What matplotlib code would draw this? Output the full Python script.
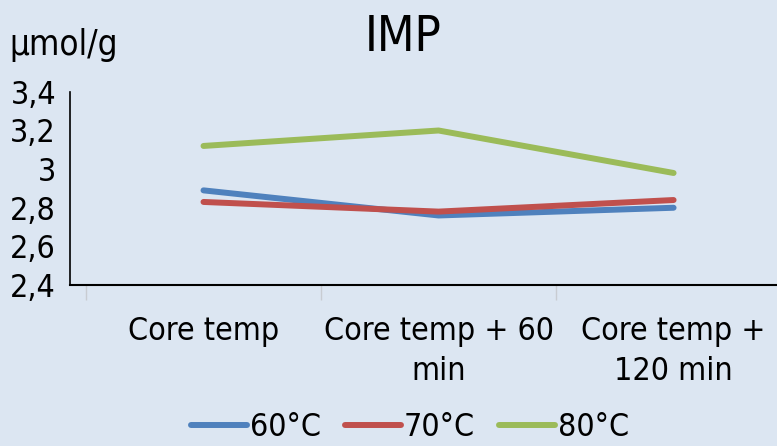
import matplotlib.pyplot as plt
from matplotlib.ticker import FixedLocator, FuncFormatter

# IMP content per temperature, at three sampling times
categories = ["Core temp", "Core temp + 60\nmin", "Core temp +\n120 min"]
temps = ["60°C", "70°C", "80°C"]
imp_60 = [2.89, 2.76, 2.80]
imp_70 = [2.83, 2.78, 2.84]
imp_80 = [3.12, 3.20, 2.98]
colors = ["#4F81BD", "#C0504D", "#9BBB59"]
bg = "#DCE6F2"

plt.rcParams['font.family'] = ['DejaVu Sans']
plt.rcParams['font.stretch'] = 'condensed'

fig = plt.figure(figsize=(7.77, 4.46), dpi=100, facecolor=bg)
ax = fig.add_axes([0.0901, 0.361, 0.9099, 0.433], facecolor=bg)

x = list(range(len(categories)))
for vals, lab, c in zip([imp_60, imp_70, imp_80], temps, colors):
    ax.plot(x, vals, color=c, lw=4.3, solid_capstyle='round', label=lab)

ax.set_ylim(2.4, 3.4)
ax.set_xlim(-0.568, 2.44)
ax.set_yticks([2.4, 2.6, 2.8, 3.0, 3.2, 3.4])
ax.yaxis.set_major_formatter(FuncFormatter(lambda v, p: f"{v:g}".replace(".", ",")))
ax.tick_params(axis='y', length=0, labelsize=23, pad=10)

ax.set_xticks(x)
ax.set_xticklabels(categories, fontsize=23, linespacing=1.4)
ax.tick_params(axis='x', which='major', length=0, pad=22)
ax.xaxis.set_minor_locator(FixedLocator([-0.5, 0.5, 1.5]))
ax.tick_params(axis='x', which='minor', length=11, width=1, color="#c8ccd2", direction='out', pad=0)

for s in ['top', 'right']:
    ax.spines[s].set_visible(False)
ax.spines['left'].set_linewidth(1.2)
ax.spines['bottom'].set_linewidth(1.5)

fig.text(0.519, 0.918, "IMP", ha='center', va='center', fontsize=35)
fig.text(0.012, 0.9, "µmol/g", ha='left', va='center', fontsize=25)

fig.legend(loc='center', bbox_to_anchor=(0.5275, 0.042), ncol=3, frameon=False,
           fontsize=23, handlelength=1.75, handletextpad=0.1, columnspacing=0.75)

fig.savefig("out.png", dpi=100, facecolor=bg)
